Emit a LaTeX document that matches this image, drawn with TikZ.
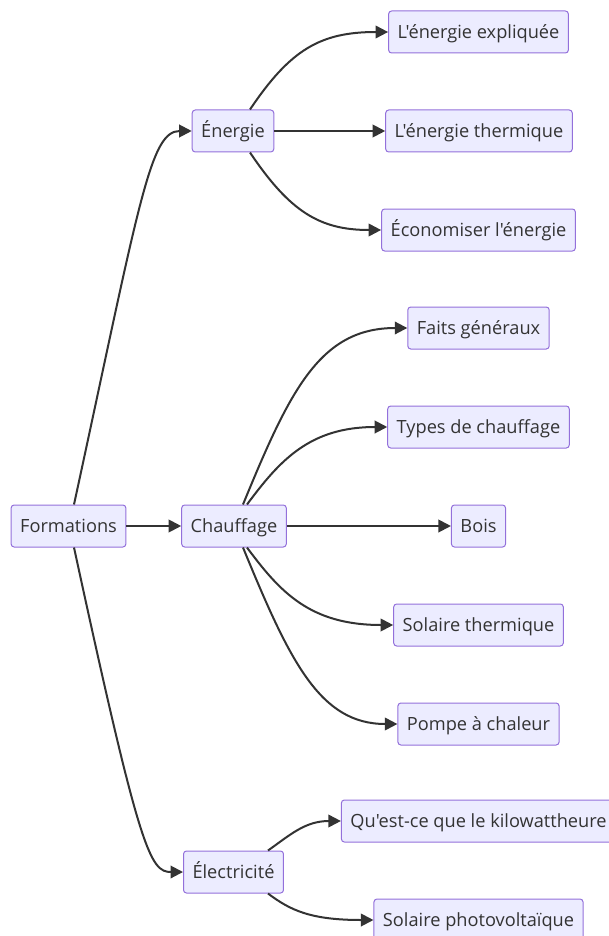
\documentclass[tikz,border=0pt]{standalone}
\usepackage{fontspec}
\setmainfont{Open Sans}[Ligatures=TeXOff]
\usetikzlibrary{arrows.meta}
\definecolor{mmfill}{HTML}{ECECFF}
\definecolor{mmstroke}{HTML}{9370DB}
\definecolor{mmtext}{HTML}{333333}
\definecolor{mmline}{HTML}{333333}
\tikzset{
  box/.style={rectangle, rounded corners=3pt, fill=mmfill, draw=mmstroke,
    line width=1pt, minimum height=42pt, inner xsep=9pt, inner ysep=0pt,
    text height=13pt, text depth=0pt,
    text=mmtext, font=\fontsize{18.2}{21}\selectfont, anchor=center},
  link/.style={draw=mmline, line width=2pt,
    -{Triangle[length=12.5pt,width=12.5pt]}}
}
\begin{document}
\begin{tikzpicture}[x=1pt,y=-1pt]
  \useasboundingbox (0,0) rectangle (609,936);
  \clip (0,0) rectangle (609,936);

  % hubs
  \node[box] (formations) at (68.5,526) {Formations};
  \node[box] (energie)    at (233,131)  {Énergie};
  \node[box] (chauffage)  at (234,526)  {Chauffage};
  \node[box] (elec)       at (233.5,872) {Électricité};

  % leaves
  \node[box] (n1) at (478.5,32)  {L'énergie expliquée};
  \node[box] (n2) at (479,131)   {L'énergie thermique};
  \node[box] (n3) at (478.5,230) {Économiser l'énergie};
  \node[box] (c1) at (478.5,328) {Faits généraux};
  \node[box] (c2) at (478.5,427) {Types de chauffage};
  \node[box] (c3) at (478.5,526) {Bois};
  \node[box] (c4) at (478.5,625) {Solaire thermique};
  \node[box] (c5) at (478.5,724) {Pompe à chaleur};
  \node[box] (e1) at (478.5,821) {Qu'est-ce que le kilowattheure};
  \node[box] (e2) at (478.5,920) {Solaire photovoltaïque};

  % root branches
  \draw[link] ([xshift=5.5pt]formations.north) .. controls (140,200) and (150,131) .. (energie.west);
  \draw[link] (formations.east) -- (chauffage.west);
  \draw[link] ([xshift=5.5pt]formations.south) .. controls (140,852) and (150,872) .. (elec.west);

  % energie branches
  \draw[link] ([xshift=17pt]energie.north) .. controls (290,50) and (320,32) .. (n1.west);
  \draw[link] (energie.east) -- (n2.west);
  \draw[link] ([xshift=17pt]energie.south) .. controls (290,212) and (320,230) .. (n3.west);

  % chauffage branches
  \draw[link] ([xshift=9pt]chauffage.north) .. controls (290,390) and (320,328) .. (c1.west);
  \draw[link] ([xshift=13pt]chauffage.north) .. controls (280,460) and (310,427) .. (c2.west);
  \draw[link] (chauffage.east) -- (c3.west);
  \draw[link] ([xshift=13pt]chauffage.south) .. controls (280,592) and (310,625) .. (c4.west);
  \draw[link] ([xshift=9pt]chauffage.south) .. controls (290,662) and (320,724) .. (c5.west);

  % electricite branches
  \draw[link] ([xshift=34.5pt]elec.north) .. controls (290,835) and (305,821) .. (e1.west);
  \draw[link] ([xshift=34.5pt]elec.south) .. controls (290,910) and (310,920) .. (e2.west);
\end{tikzpicture}
\end{document}
